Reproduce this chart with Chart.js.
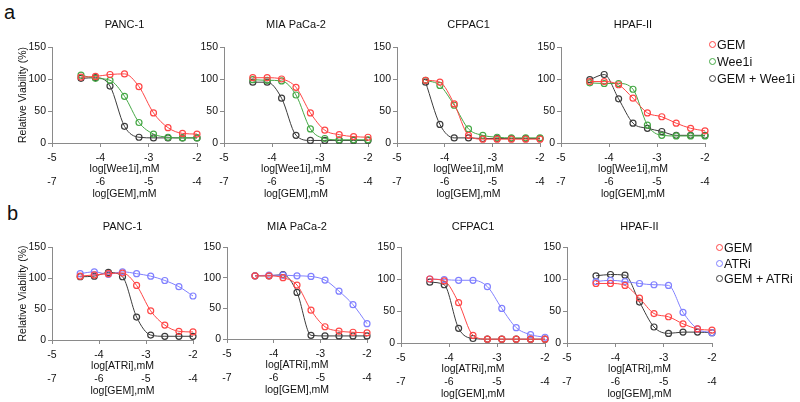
<!DOCTYPE html>
<html>
<head>
<meta charset="utf-8">
<script src="https://cdn.jsdelivr.net/npm/chart.js@4"></script>
<style>
  body { margin: 0; width: 800px; height: 402px; position: relative; background: #fff; overflow: hidden;
         font-family: "Liberation Sans", Arial, sans-serif; color: #111; }
  canvas { position: absolute; }
  .tag { position: absolute; font-size: 20px; line-height: 1; }
  .leg { position: absolute; font-size: 12.5px; line-height: 14px; white-space: nowrap; }
  .leg i { display: inline-block; width: 5px; height: 5px; border: 1.4px solid; border-radius: 50%;
           margin-right: 1px; vertical-align: 1px; }
</style>
</head>
<body>
<div class="tag" style="left:4px;top:2px">a</div>
<div class="tag" style="left:7px;top:203px">b</div>

<script>
// log concentration of the single drug (primary axis); GEM is 2 logs lower
const doseLog = [-4.4, -4.1, -3.8, -3.5, -3.2, -2.9, -2.6, -2.3, -2.0];
const cellLines = ['PANC-1', 'MIA PaCa-2', 'CFPAC1', 'HPAF-II'];
const drugTicks = [-5, -4, -3, -2];
const gemTicks = [-7, -6, -5, -4];

// row a: GEM / Wee1i / GEM + Wee1i, one array per cell line
const gemA = [
  [103, 104, 107, 108, 88, 47, 24, 15, 14],
  [102, 102, 100, 87, 47, 20, 13, 10, 9],
  [98, 95, 61, 12, 6, 6, 6, 6, 6],
  [96, 96, 91, 70, 47, 41, 31, 23, 19]
];
const wee1i = [
  [106, 101, 98, 73, 32, 14, 9, 8, 8],
  [99, 98, 97, 75, 22, 7, 5, 5, 5],
  [98, 90, 59, 22, 12, 9, 8, 8, 8],
  [94, 93, 93, 84, 28, 12, 11, 11, 11]
];
const gemWee1i = [
  [101, 102, 89, 26, 9, 8, 8, 8, 8],
  [95, 95, 70, 12, 4, 4, 4, 4, 4],
  [95, 29, 8, 8, 7, 7, 7, 7, 7],
  [99, 107, 69, 31, 23, 18, 12, 12, 12]
];

// row b: GEM / ATRi / GEM + ATRi
const gemB = [
  [103, 105, 107, 108, 88, 47, 24, 14, 13],
  [103, 103, 100, 88, 47, 20, 13, 11, 10],
  [100, 97, 63, 12, 6, 6, 6, 6, 6],
  [93, 93, 90, 70, 46, 41, 30, 22, 20]
];
const atri = [
  [107, 110, 106, 110, 107, 103, 96, 86, 71],
  [103, 104, 104, 103, 102, 96, 78, 56, 25],
  [100, 99, 98, 98, 88, 54, 24, 13, 9],
  [96, 98, 96, 93, 91, 90, 48, 22, 16]
];
const gemAtri = [
  [102, 103, 109, 102, 37, 8, 6, 6, 6],
  [103, 103, 105, 76, 6, 5, 5, 5, 5],
  [95, 91, 23, 7, 6, 6, 6, 6, 6],
  [105, 107, 106, 64, 25, 15, 17, 17, 16]
];

const RED = '#ff4646', GREEN = '#45a845', BLACK = '#3c3c3c', BLUE = '#8080ff';
const AXIS = '#8a8a8a';
const FONT = '"Liberation Sans", Arial, sans-serif';
Chart.defaults.font.family = FONT;
Chart.defaults.color = '#111';

// plot area of each panel: left, right, top, bottom (px)
const boxesA = [[52, 197, 47, 143], [224, 368, 47, 143], [397, 540, 47, 143], [561, 705, 47, 143]];
const boxesB = [[52, 193, 247, 340], [227, 367, 247, 339], [401, 545, 247, 343], [567, 712, 247, 343]];

const YW = 52, TOP = 30, RPAD = 10, XH = 32, X2H = 25;

function panel(box, title, drug, series, showY, titleY) {
  const [l, r, t, b] = box;
  const cv = document.createElement('canvas');
  const w = YW + (r - l) + RPAD, h = TOP + (b - t) + XH + X2H;
  cv.width = w; cv.height = h;
  cv.style.left = (l - YW) + 'px';
  cv.style.top = (t - TOP) + 'px';
  document.body.appendChild(cv);

  const tpad = titleY - 6.6;
  new Chart(cv, {
    type: 'line',
    data: {
      datasets: series.map(s => ({
        label: s.label,
        data: doseLog.map((x, i) => ({ x: x, y: s.values[i] })),
        borderColor: s.color,
        borderWidth: 1,
        cubicInterpolationMode: 'monotone',
        pointStyle: 'circle',
        pointRadius: 3,
        pointBorderWidth: 1.2,
        pointBorderColor: s.color,
        pointBackgroundColor: 'rgba(0,0,0,0)',
        clip: false
      }))
    },
    options: {
      responsive: false,
      animation: false,
      events: [],
      layout: { padding: { top: 0, left: 0, right: RPAD, bottom: 0 } },
      plugins: {
        legend: { display: false },
        tooltip: { enabled: false },
        title: {
          display: true, text: title, fullSize: false, color: '#111',
          font: { size: 11, weight: 'normal' },
          padding: { top: tpad, bottom: TOP - 13.2 - tpad }
        }
      },
      scales: {
        x: {
          type: 'linear', position: 'bottom', weight: 0,
          min: drugTicks[0], max: drugTicks[drugTicks.length - 1],
          afterBuildTicks: s => { s.ticks = drugTicks.map(v => ({ value: v })); },
          ticks: { font: { size: 10.5 }, color: '#111', padding: 5 },
          grid: { drawOnChartArea: false, drawTicks: true, tickLength: 4, color: AXIS },
          border: { color: AXIS, width: 1 },
          title: { display: true, text: 'log[' + drug + '],mM', font: { size: 10.5 }, padding: 0 },
          afterFit: s => { s.height = XH; }
        },
        x2: {
          type: 'linear', position: 'bottom', weight: 1,
          min: gemTicks[0], max: gemTicks[gemTicks.length - 1],
          afterBuildTicks: s => { s.ticks = gemTicks.map(v => ({ value: v })); },
          ticks: { font: { size: 10.5 }, color: '#111', padding: 1 },
          grid: { display: false, drawTicks: false },
          border: { display: false },
          title: { display: true, text: 'log[GEM],mM', font: { size: 10.5 }, padding: 0 },
          afterFit: s => { s.height = X2H; }
        },
        y: {
          min: 0, max: 150,
          ticks: { stepSize: 50, font: { size: 10.5 }, color: '#111', padding: 2 },
          grid: { drawOnChartArea: false, drawTicks: true, tickLength: 4, color: AXIS },
          border: { color: AXIS, width: 1 },
          title: { display: showY, text: 'Relative Viability (%)', font: { size: 10.5 },
                   padding: { top: 16.4, bottom: 0 } },
          afterFit: s => { s.width = YW; }
        }
      }
    }
  });
}

function legend(x, y, step, items) {
  items.forEach((it, i) => {
    const d = document.createElement('div');
    d.className = 'leg';
    d.style.left = (x - 4) + 'px';
    d.style.top = (y + i * step - 7) + 'px';
    d.innerHTML = '<i style="border-color:' + it.color + '"></i>' + it.label;
    document.body.appendChild(d);
  });
}

const namesA = ['GEM', 'Wee1i', 'GEM + Wee1i'];
const namesB = ['GEM', 'ATRi', 'GEM + ATRi'];
const colorsA = [RED, GREEN, BLACK];
const colorsB = [RED, BLUE, BLACK];

cellLines.forEach((name, k) => {
  panel(boxesA[k], name, 'Wee1i', [
    { label: namesA[0], values: gemA[k], color: colorsA[0] },
    { label: namesA[1], values: wee1i[k], color: colorsA[1] },
    { label: namesA[2], values: gemWee1i[k], color: colorsA[2] }
  ], k === 0, 8);
  panel(boxesB[k], name, 'ATRi', [
    { label: namesB[0], values: gemB[k], color: colorsB[0] },
    { label: namesB[1], values: atri[k], color: colorsB[1] },
    { label: namesB[2], values: gemAtri[k], color: colorsB[2] }
  ], k === 0, 10);
});

legend(713, 45, 17, namesA.map((n, i) => ({ label: n, color: colorsA[i] })));
legend(720, 248, 15.5, namesB.map((n, i) => ({ label: n, color: colorsB[i] })));
</script>
</body>
</html>
